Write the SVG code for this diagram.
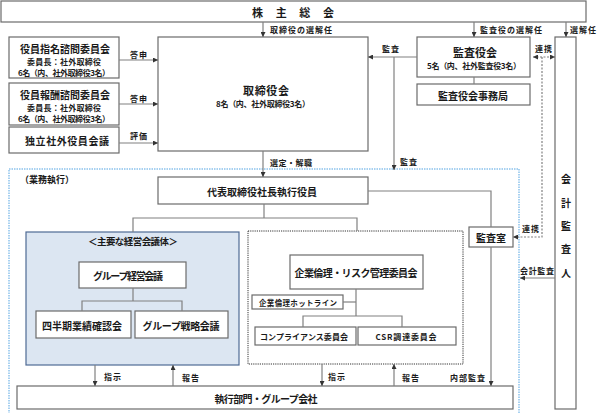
<svg xmlns="http://www.w3.org/2000/svg" width="600" height="413" viewBox="0 0 600 413">
<defs>
<marker id="ah" viewBox="0 0 6 6" refX="6" refY="3" markerWidth="5" markerHeight="5" orient="auto-start-reverse" markerUnits="userSpaceOnUse">
<path d="M0,0 L6,3 L0,6 z" fill="#333"/>
</marker>
<style>
text{font-family:"Noto Sans CJK JP","Liberation Sans",sans-serif;font-weight:bold;fill:#1a1a1a;text-anchor:middle;dominant-baseline:central}
.box{fill:#fff;stroke:#6b6b6b;stroke-width:1.2}
.ln{fill:none;stroke:#808080;stroke-width:1.2}
.arr{fill:none;stroke:#808080;stroke-width:1.2;marker-end:url(#ah)}
.dot{fill:none;stroke:#808080;stroke-width:1.2;stroke-dasharray:2 1.5}
.t10{font-size:10px}
.t11{font-size:11px}
.t8{font-size:8px}
.t7{font-size:7.5px}
.lb{font-size:8px;text-anchor:start}
</style>
</defs>
<rect width="600" height="413" fill="#fff"/>

<!-- business execution area -->
<g id="gyomu">
<rect x="9" y="169" width="510" height="245" fill="none" stroke="#8cc2ec" stroke-width="1.5" stroke-dasharray="1.5 1"/>
<text x="20" y="179" class="lb" style="font-size:9px">（業務執行）</text>
</g>

<g id="shukai">
<rect class="box" x="1" y="1" width="585" height="21"/>
<text x="293" y="12" class="t11" textLength="82">株　主　総　会</text>
</g>

<g id="shimei">
<rect class="box" x="9" y="37" width="110" height="41"/>
<text x="65" y="48" class="t10" textLength="90">役員指名諮問委員会</text>
<text x="64" y="61" class="t8" textLength="74">委員長：社外取締役</text>
<text x="64" y="72" class="t8" textLength="92">6名（内、社外取締役3名）</text>
</g>

<g id="hoshu">
<rect class="box" x="9" y="83" width="110" height="42"/>
<text x="65" y="94" class="t10" textLength="90">役員報酬諮問委員会</text>
<text x="64" y="107" class="t8" textLength="74">委員長：社外取締役</text>
<text x="64" y="118" class="t8" textLength="92">6名（内、社外取締役3名）</text>
</g>

<g id="dokuritsu">
<rect class="box" x="9" y="127" width="110" height="26"/>
<text x="67" y="140" class="t10" textLength="84">独立社外役員会議</text>
</g>

<g id="torishimariyakukai">
<rect class="box" x="158" y="37" width="210" height="114"/>
<text x="266" y="90" class="t11" textLength="46">取締役会</text>
<text x="263" y="103" class="t8" textLength="94">8名（内、社外取締役3名）</text>
</g>

<g id="kansayakukai">
<rect class="box" x="417" y="37" width="113" height="40"/>
<text x="475" y="52" class="t11" textLength="44">監査役会</text>
<text x="474" y="65" class="t8" textLength="94">5名（内、社外監査役3名）</text>
</g>

<g id="jimukyoku">
<rect class="box" x="417" y="84" width="113" height="21"/>
<text x="473" y="95" class="t10" textLength="70">監査役会事務局</text>
</g>

<g id="kaikei">
<rect class="box" x="555" y="37" width="21" height="372"/>
<text x="566" y="178" class="t10">会</text>
<text x="566" y="202" class="t10">計</text>
<text x="566" y="225" class="t10">監</text>
<text x="566" y="248" class="t10">査</text>
<text x="566" y="272" class="t10">人</text>
</g>

<g id="daihyo">
<rect class="box" x="158" y="177" width="210" height="27"/>
<text x="262" y="191" class="t10" textLength="110">代表取締役社長執行役員</text>
</g>

<g id="kansashitsu">
<rect class="box" x="469" y="227" width="44" height="20"/>
<text x="491" y="237" class="t10" textLength="30">監査室</text>
</g>

<g id="keieikaigitai">
<rect x="26" y="232" width="213" height="133" fill="#dce6f2" stroke="#4f6b94" stroke-width="1.2"/>
<text x="133" y="241" style="font-size:9.5px" textLength="90">＜主要な経営会議体＞</text>
</g>

<g id="group_keiei">
<rect class="box" x="79" y="262" width="107" height="26"/>
<text x="128" y="275" class="t10" textLength="70">グループ経営会議</text>
</g>

<g id="shihanki">
<rect class="box" x="36" y="311" width="95" height="27"/>
<text x="82" y="325" class="t10" textLength="80">四半期業績確認会</text>
</g>

<g id="senryaku">
<rect class="box" x="135" y="311" width="93" height="27"/>
<text x="181" y="325" class="t10" textLength="77">グループ戦略会議</text>
</g>

<g id="risk_area">
<rect x="248" y="231" width="215" height="133" fill="none" stroke="#333" stroke-width="1" stroke-dasharray="1.2 1"/>
</g>

<g id="risk">
<rect class="box" x="290" y="255" width="133" height="34"/>
<text x="356" y="272" class="t10" textLength="123">企業倫理・リスク管理委員会</text>
</g>

<g id="hotline">
<rect class="box" x="252" y="295" width="91" height="14"/>
<text x="298" y="302" class="t7" textLength="78">企業倫理ホットライン</text>
</g>

<g id="compliance">
<rect class="box" x="255" y="327" width="101" height="18"/>
<text x="304" y="336" class="t8" textLength="88">コンプライアンス委員会</text>
</g>

<g id="csr">
<rect class="box" x="358" y="327" width="98" height="18"/>
<text x="406" y="336" class="t8" textLength="61">CSR調達委員会</text>
</g>

<g id="shikko">
<rect class="box" x="17" y="386" width="496" height="23"/>
<text x="266" y="398" class="t10" textLength="103">執行部門・グループ会社</text>
</g>

<g id="connectors">
<!-- from shareholders -->
<path class="arr" d="M263,22 V37"/>
<text x="270" y="29" class="lb" textLength="62">取締役の選解任</text>
<path class="arr" d="M474,22 V37"/>
<text x="480" y="29" class="lb" textLength="62">監査役の選解任</text>
<path class="arr" d="M566,22 V37"/>
<text x="570" y="29" class="lb" textLength="26">選解任</text>

<!-- committees to board -->
<path class="arr" d="M119,60 H158"/>
<text x="130" y="54" class="lb" textLength="17">答申</text>
<path class="arr" d="M119,104 H158"/>
<text x="130" y="98" class="lb" textLength="17">答申</text>
<path class="arr" d="M119,143 H158"/>
<text x="130" y="135" class="lb" textLength="17">評価</text>

<!-- audit -->
<path class="ln" d="M474,77 V84"/>
<path class="arr" d="M417,57 H368"/>
<text x="382" y="48" class="lb" textLength="17">監査</text>
<path class="arr" d="M394,57 V170"/>
<text x="400" y="161" class="lb" textLength="17">監査</text>

<!-- 連携 -->
<path class="dot" d="M533,57 H555" marker-start="url(#ah)" marker-end="url(#ah)"/>
<text x="535" y="48" class="lb" textLength="17">連携</text>
<path class="dot" d="M542,57 V237 H513" marker-end="url(#ah)"/>
<text x="522" y="228" class="lb" textLength="17">連携</text>

<!-- 会計監査 -->
<path class="arr" d="M555,278 H520"/>
<text x="520" y="270" class="lb" textLength="34">会計監査</text>

<!-- board to president -->
<path class="arr" d="M263,151 V177"/>
<text x="270" y="162" class="lb" textLength="42">選定・解職</text>

<!-- president to internal audit -->
<path class="ln" d="M368,191 H491 V227"/>
<path class="arr" d="M491,247 V386"/>
<text x="450" y="377" class="lb" textLength="35">内部監査</text>

<!-- president branches -->
<path class="ln" d="M264,204 V218"/>
<path class="ln" d="M133,232 V218 H357 V231"/>

<!-- management meetings -->
<path class="ln" d="M133,288 V301"/>
<path class="ln" d="M82,311 V301 H182 V311"/>

<!-- risk committee tree -->
<path class="ln" d="M356,289 V316"/>
<path class="ln" d="M343,302 H356"/>
<path class="ln" d="M303,327 V316 H402 V327"/>

<!-- instruct / report -->
<path class="arr" d="M95,365 V386"/>
<text x="104" y="376" class="lb" textLength="17">指示</text>
<path class="arr" d="M173,386 V365"/>
<text x="182" y="377" class="lb" textLength="17">報告</text>
<path class="arr" d="M322,364 V386"/>
<text x="328" y="376" class="lb" textLength="17">指示</text>
<path class="arr" d="M394,386 V364"/>
<text x="402" y="377" class="lb" textLength="17">報告</text>
</g>
</svg>
